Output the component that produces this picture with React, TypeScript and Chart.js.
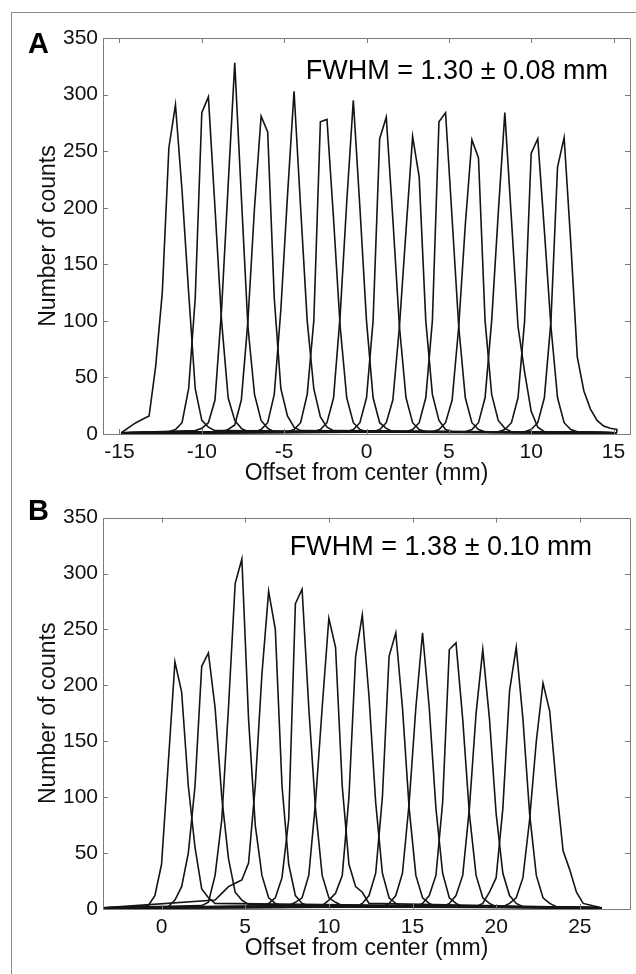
import React, { useEffect, useRef } from "react";
import { Chart, registerables } from "chart.js";
Chart.register(...registerables);

const FONT = '"Liberation Sans", Arial, Helvetica, sans-serif';
const STEP = 0.4;

// ---------- Panel A ----------
const aStarts = [-14.8, -12.0, -10.4, -8.8, -6.8, -4.8, -3.2, -1.2, 0.4, 2.4, 4.0, 6.0, 8.0, 9.6];
const a1 = [2, 6, 10, 13, 16, 60, 125, 253, 291, 215, 125, 40, 12, 6, 3];
const a2 = [2, 4, 10, 40, 120, 284, 298, 200, 100, 32, 12, 5, 2];
const a3 = [3, 5, 10, 30, 110, 220, 328, 210, 95, 35, 12, 5, 2];
const a4 = [2, 4, 8, 30, 100, 200, 281, 267, 120, 40, 16, 6, 3];
const a5 = [2, 4, 10, 35, 110, 210, 303, 200, 100, 40, 15, 6, 3];
const a6 = [2, 4, 10, 35, 100, 276, 278, 190, 95, 32, 10, 4, 2];
const a7 = [2, 4, 10, 32, 105, 205, 295, 200, 100, 32, 10, 5, 2];
const a8 = [2, 4, 10, 32, 100, 261, 280, 190, 95, 32, 10, 4, 2];
const a9 = [2, 4, 10, 30, 95, 180, 263, 227, 100, 35, 12, 4, 2];
const a10 = [2, 4, 10, 32, 100, 276, 284, 190, 95, 32, 10, 4, 2];
const a11 = [2, 4, 10, 30, 95, 185, 260, 244, 100, 35, 12, 5, 2];
const a12 = [2, 4, 10, 32, 100, 195, 284, 190, 95, 55, 20, 6, 2];
const a13 = [2, 4, 10, 32, 100, 248, 261, 180, 95, 32, 10, 4, 2];
const a14 = [2, 4, 10, 32, 100, 236, 262, 170, 68, 38, 22, 12, 7, 5, 4];
const aSeries = [a1, a2, a3, a4, a5, a6, a7, a8, a9, a10, a11, a12, a13, a14];
const aEdges = [-14.9, 15.2];
const aEdgeValue = 1;
const aXTicks = [-15, -10, -5, 0, 5, 10, 15];
const aXRange = [-16, 16];

// ---------- Panel B ----------
const bStarts = [-1.6, 0.4, 2.4, 3.2, 6.0, 7.6, 9.6, 11.6, 13.2, 15.2, 16.8, 18.8, 20.4];
const b1 = [1, 2, 3, 12, 40, 130, 221, 194, 110, 55, 18, 10, 5];
const b2 = [2, 8, 20, 50, 110, 217, 229, 180, 100, 45, 15, 8, 4];
const b3 = [3, 6, 30, 80, 180, 291, 313, 170, 75, 30, 10, 5, 2];
const b4 = [8, 14, 20, 23, 26, 41, 110, 210, 284, 250, 110, 40, 12, 5, 3];
const b5 = [2, 5, 10, 28, 80, 273, 286, 180, 90, 30, 10, 6, 3];
const b6 = [3, 6, 10, 30, 95, 180, 260, 234, 110, 40, 20, 15, 5];
const b7 = [3, 8, 14, 30, 100, 226, 263, 190, 95, 32, 10, 5, 2];
const b8 = [2, 5, 12, 32, 100, 226, 247, 180, 90, 30, 10, 5, 2];
const b9 = [2, 5, 12, 32, 95, 180, 247, 180, 90, 32, 10, 5, 2];
const b10 = [2, 5, 12, 30, 95, 232, 238, 170, 85, 30, 10, 5, 2];
const b11 = [2, 5, 12, 30, 90, 175, 232, 170, 85, 32, 12, 5, 2];
const b12 = [2, 5, 15, 28, 90, 195, 234, 170, 85, 30, 10, 5, 2];
const b13 = [2, 5, 10, 28, 80, 150, 202, 177, 110, 52, 35, 15, 5];
const bSeries = [b1, b2, b3, b4, b5, b6, b7, b8, b9, b10, b11, b12, b13];
const bEdges = [-3.5, 26.3];
const bEdgeValue = 1;
const bXTicks = [0, 5, 10, 15, 20, 25];
const bXRange = [-3.5, 28];

const yTicks = [0, 50, 100, 150, 200, 250, 300, 350];
const yRange = [0, 350];

const xTitle = "Offset from center (mm)";
const yTitle = "Number of counts";

type PanelSpec = {
  letter: string;
  note: string;
  series: number[][];
  starts: number[];
  edges: number[];
  edgeValue: number;
  xTicks: number[];
  xRange: number[];
  height: number;
  padTop: number;
  xAxisH: number;
  titlePadBottom: number;
  letterBaseline: number;
  noteRight: number;
  noteBaseline: number;
};

const panels: PanelSpec[] = [
  {
    letter: "A",
    note: "FWHM = 1.30 \u00b1 0.08 mm",
    series: aSeries,
    starts: aStarts,
    edges: aEdges,
    edgeValue: aEdgeValue,
    xTicks: aXTicks,
    xRange: aXRange,
    height: 500,
    padTop: 38,
    xAxisH: 66,
    titlePadBottom: 13,
    letterBaseline: 53,
    noteRight: 608,
    noteBaseline: 79,
  },
  {
    letter: "B",
    note: "FWHM = 1.38 \u00b1 0.10 mm",
    series: bSeries,
    starts: bStarts,
    edges: bEdges,
    edgeValue: bEdgeValue,
    xTicks: bXTicks,
    xRange: bXRange,
    height: 474,
    padTop: 15,
    xAxisH: 65,
    titlePadBottom: 12,
    letterBaseline: 20,
    noteRight: 592,
    noteBaseline: 55,
  },
];

function buildData(p: PanelSpec) {
  return p.series.map((vals, i) => {
    const pts = vals.map((v, j) => ({ x: +(p.starts[i] + j * STEP).toFixed(2), y: v }));
    return [{ x: p.edges[0], y: p.edgeValue }, ...pts, { x: p.edges[1], y: p.edgeValue }];
  });
}

const boxPlugin = {
  id: "boxTicks",
  afterDatasetsDraw(chart: any) {
    const { ctx, chartArea } = chart;
    const { left, right, top, bottom } = chartArea;
    const xs = chart.scales.x;
    const ys = chart.scales.y;
    ctx.save();
    ctx.strokeStyle = "#7a7a7a";
    ctx.lineWidth = 1;
    ctx.beginPath();
    ctx.rect(Math.round(left) + 0.5, Math.round(top) + 0.5, Math.round(right - left), Math.round(bottom - top));
    const L = 5;
    xs.ticks.forEach((t: any) => {
      const px = Math.round(xs.getPixelForValue(t.value)) + 0.5;
      ctx.moveTo(px, bottom);
      ctx.lineTo(px, bottom - L);
      ctx.moveTo(px, top);
      ctx.lineTo(px, top + L);
    });
    ys.ticks.forEach((t: any) => {
      const py = Math.round(ys.getPixelForValue(t.value)) + 0.5;
      ctx.moveTo(left, py);
      ctx.lineTo(left + L, py);
      ctx.moveTo(right, py);
      ctx.lineTo(right - L, py);
    });
    ctx.stroke();
    ctx.restore();
  },
};

function makeTextPlugin(p: PanelSpec) {
  return {
    id: "panelText",
    afterDraw(chart: any) {
      const { ctx } = chart;
      ctx.save();
      ctx.fillStyle = "#000";
      ctx.textBaseline = "alphabetic";
      ctx.textAlign = "left";
      ctx.font = `bold 29px ${FONT}`;
      ctx.fillText(p.letter, 28, p.letterBaseline);
      ctx.textAlign = "right";
      ctx.font = `27px ${FONT}`;
      ctx.fillText(p.note, p.noteRight, p.noteBaseline);
      ctx.restore();
    },
  };
}

function Panel({ p }: { p: PanelSpec }) {
  const ref = useRef<HTMLCanvasElement | null>(null);
  useEffect(() => {
    if (!ref.current) return;
    const data = buildData(p);
    const chart = new Chart(ref.current, {
      type: "line",
      data: {
        datasets: data.map((d) => ({
          data: d,
          borderColor: "#141414",
          borderWidth: 1.6,
          pointRadius: 0,
          tension: 0,
          fill: false,
        })),
      },
      options: {
        animation: false,
        responsive: false,
        maintainAspectRatio: false,
        layout: { padding: { top: p.padTop, right: 6, left: 0, bottom: 0 } },
        plugins: { legend: { display: false }, tooltip: { enabled: false } },
        scales: {
          x: {
            type: "linear",
            min: p.xRange[0],
            max: p.xRange[1],
            grid: { display: false, drawTicks: false },
            border: { display: false },
            afterBuildTicks: (s: any) => {
              s.ticks = p.xTicks.map((v) => ({ value: v }));
            },
            afterFit: (s: any) => {
              s.height = p.xAxisH;
            },
            ticks: {
              autoSkip: false,
              maxRotation: 0,
              padding: 6,
              color: "#111",
              font: { family: FONT, size: 21 },
              callback: (v: any) => String(v),
            },
            title: {
              display: true,
              text: xTitle,
              color: "#111",
              font: { family: FONT, size: 23 },
              padding: { top: 0, bottom: p.titlePadBottom },
            },
          },
          y: {
            type: "linear",
            min: yRange[0],
            max: yRange[1],
            grid: { display: false, drawTicks: false },
            border: { display: false },
            afterBuildTicks: (s: any) => {
              s.ticks = yTicks.map((v) => ({ value: v }));
            },
            afterFit: (s: any) => {
              s.width = 103;
            },
            ticks: {
              autoSkip: false,
              padding: 5,
              color: "#111",
              font: { family: FONT, size: 21 },
              callback: (v: any) => String(v),
            },
            title: {
              display: true,
              text: yTitle,
              color: "#111",
              font: { family: FONT, size: 23 },
              padding: { top: 35, bottom: 0 },
            },
          },
        },
      },
      plugins: [boxPlugin, makeTextPlugin(p)],
    } as any);
    return () => chart.destroy();
  }, [p]);
  return <canvas ref={ref} width={636} height={p.height} style={{ display: "block", width: 636, height: p.height }} />;
}

export default function App() {
  return (
    <div style={{ position: "absolute", left: 0, top: 0, width: 636, height: 974, background: "#fff", overflow: "hidden" }}>
      <div
        style={{
          position: "absolute",
          left: 11,
          top: 12,
          width: 640,
          height: 980,
          borderLeft: "1px solid #8a8a8a",
          borderTop: "1px solid #8a8a8a",
        }}
      />
      <div style={{ position: "absolute", left: 0, top: 0 }}>
        <Panel p={panels[0]} />
      </div>
      <div style={{ position: "absolute", left: 0, top: 500 }}>
        <Panel p={panels[1]} />
      </div>
    </div>
  );
}
